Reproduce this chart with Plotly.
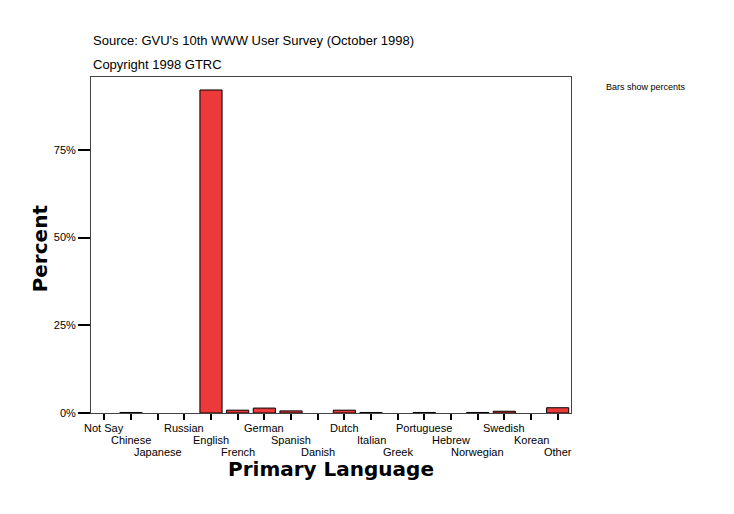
import plotly.graph_objects as go

categories = ["Not Say", "Chinese", "Japanese", "Russian", "English", "French",
              "German", "Spanish", "Danish", "Dutch", "Italian", "Greek",
              "Portuguese", "Hebrew", "Norwegian", "Swedish", "Korean", "Other"]
percents = [0.0, 0.15, 0.0, 0.0, 92.1, 0.8, 1.4, 0.6, 0.0, 0.8, 0.15, 0.0,
            0.15, 0.0, 0.15, 0.5, 0.0, 1.5]
y_tick_vals = [0, 25, 50, 75]
y_tick_text = ["0%", "25%", "50%", "75%"]

FONT = "Liberation Sans, Arial, sans-serif"
BOLD = "DejaVu Sans, Liberation Sans, sans-serif"

# zero-valued categories draw no bar
bar_vals = [v if v > 0 else None for v in percents]

fig = go.Figure()
fig.add_trace(go.Bar(
    x=categories, y=bar_vals,
    marker=dict(color="rgb(236,58,58)", line=dict(color="black", width=1)),
))

fig.update_layout(
    width=726, height=506,
    margin=dict(l=83, r=163, t=69, b=101),
    paper_bgcolor="white", plot_bgcolor="white",
    showlegend=False, bargap=0.17,
    font=dict(family=FONT, size=11, color="black"),
)
fig.update_xaxes(
    type="category", range=[-0.5, 17.5],
    tickvals=categories, showticklabels=False,
    ticks="outside", ticklen=6, tickcolor="black", tickwidth=2,
    showline=True, linecolor="#444", linewidth=1, mirror=True,
    showgrid=False,
)
fig.update_yaxes(
    range=[0, 95.8], tickvals=y_tick_vals, ticktext=y_tick_text,
    ticks="outside", ticklen=12, tickcolor="black", tickwidth=2,
    showline=True, linecolor="#444", linewidth=1, mirror=True,
    showgrid=False, zeroline=False,
    tickfont=dict(family=FONT, size=11, color="black"),
)

# staggered category labels in three rows
for i, c in enumerate(categories):
    fig.add_annotation(xref="x", yref="paper", x=c, y=0, xanchor="center",
                       yanchor="middle", yshift=-15 - 12 * (i % 3),
                       showarrow=False, text=c,
                       font=dict(family=FONT, size=11, color="black"))

fig.add_annotation(xref="paper", yref="paper", x=0, y=1, xanchor="left",
                   yanchor="middle", yshift=37, showarrow=False,
                   text="Source: GVU's 10th WWW User Survey (October 1998)",
                   font=dict(family=FONT, size=13, color="black"))
fig.add_annotation(xref="paper", yref="paper", x=0, y=1, xanchor="left",
                   yanchor="middle", yshift=13, showarrow=False,
                   text="Copyright 1998 GTRC",
                   font=dict(family=FONT, size=13, color="black"))
fig.add_annotation(xref="paper", yref="paper", x=(604 - 91) / 480, y=1,
                   xanchor="left", yanchor="middle", yshift=-10, showarrow=False,
                   text="Bars show percents",
                   font=dict(family=FONT, size=9, color="black"))
fig.add_annotation(xref="paper", yref="paper", x=0.5, y=0, xanchor="center",
                   yanchor="middle", yshift=-56, showarrow=False,
                   text="<b>Primary Language</b>",
                   font=dict(family=BOLD, size=20, color="black"))
fig.add_annotation(xref="paper", yref="paper", x=(40 - 91) / 480, y=0.49,
                   xanchor="center", yanchor="middle", textangle=-90,
                   showarrow=False, text="<b>Percent</b>",
                   font=dict(family=BOLD, size=20, color="black"))

fig.write_html("out.html")
